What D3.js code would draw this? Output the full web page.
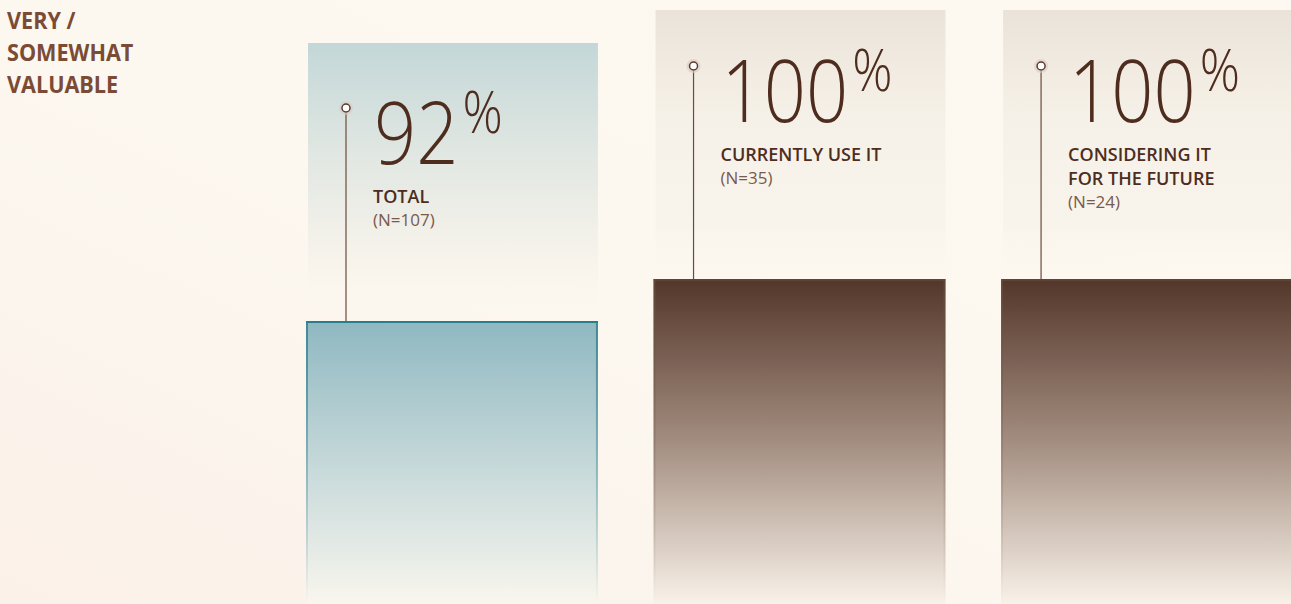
<!DOCTYPE html>
<html>
<head>
<meta charset="utf-8">
<script src="https://cdn.jsdelivr.net/npm/d3@7"></script>
<style>
  html, body { margin: 0; padding: 0; overflow: hidden; }
  body { background: #fcf6ee; }
  svg { display: block; }
  .big { font-family: "Open Sans", "Noto Sans", sans-serif; font-weight: 300; fill: #4e2d1f; }
  .cat { font-family: "Open Sans", "Noto Sans", sans-serif; font-weight: 600; fill: #4e2d1f; }
  .n { font-family: "Open Sans", "Noto Sans", sans-serif; font-weight: 400; fill: #7a5a4c; }
  .title { font-family: "Open Sans", "Noto Sans", sans-serif; font-weight: 700; fill: #7b4b35; }
</style>
</head>
<body>
<div id="chart"></div>
<script>
var categories = ["TOTAL", "CURRENTLY USE IT", "CONSIDERING IT FOR THE FUTURE"];
var labelLines = [["TOTAL"], ["CURRENTLY USE IT"], ["CONSIDERING IT", "FOR THE FUTURE"]];
var sampleSizes = ["(N=107)", "(N=35)", "(N=24)"];
var values = [92, 100, 100];
var titleLines = ["VERY /", "SOMEWHAT", "VALUABLE"];

var W = 1291, H = 604;

var svg = d3.select("#chart").append("svg")
    .attr("width", W)
    .attr("height", H);

var defs = svg.append("defs");

// page background
var bg = defs.append("linearGradient").attr("id", "pagebg")
    .attr("x1", "0%").attr("y1", "100%").attr("x2", "100%").attr("y2", "0%");
bg.append("stop").attr("offset", "0%").attr("stop-color", "#fbf1e9");
bg.append("stop").attr("offset", "45%").attr("stop-color", "#fcf7ef");
bg.append("stop").attr("offset", "100%").attr("stop-color", "#fdf9f1");
svg.append("rect").attr("width", W).attr("height", H).attr("fill", "url(#pagebg)");

// chart baseline lies below the visible frame
var y = d3.scaleLinear()
    .domain([0, 100])
    .range([804, 279]);

var x = d3.scaleBand()
    .domain(categories)
    .range([306, 1293])
    .paddingInner(0.16)
    .paddingOuter(0);

var palettes = [
    {panelTop: "#c3d7d8", panelMid: "#e1e7e2", barTop: "#8fb8c1", barMid: "#c5d8d9", barBot: "#f9f6ee", edge: "#2a7d8c"},
    {panelTop: "#ebe3d9", panelMid: "#f6f1e8", barTop: "#54362a", barMid: "#a38d80", barBot: "#f9f2e9", edge: "#6e5142"},
    {panelTop: "#ebe3d9", panelMid: "#f6f1e8", barTop: "#54362a", barMid: "#a38d80", barBot: "#f9f2e9", edge: "#6e5142"}
];
var panelOffset = [278, 269, 269];

palettes.forEach(function(p, i) {
    var top = y(values[i]);
    var pg = defs.append("linearGradient").attr("id", "panel" + i)
        .attr("x1", 0).attr("y1", 0).attr("x2", 0).attr("y2", 1);
    pg.append("stop").attr("offset", "0%").attr("stop-color", p.panelTop);
    pg.append("stop").attr("offset", "40%").attr("stop-color", p.panelMid);
    pg.append("stop").attr("offset", "80%").attr("stop-color", "#f8f4ec");
    pg.append("stop").attr("offset", "100%").attr("stop-color", "#fcf7ef").attr("stop-opacity", 0);

    var bgd = defs.append("linearGradient").attr("id", "bar" + i)
        .attr("gradientUnits", "userSpaceOnUse")
        .attr("x1", 0).attr("y1", top).attr("x2", 0).attr("y2", H);
    bgd.append("stop").attr("offset", "0%").attr("stop-color", p.barTop);
    bgd.append("stop").attr("offset", "50%").attr("stop-color", p.barMid);
    bgd.append("stop").attr("offset", "100%").attr("stop-color", p.barBot);

    var eg = defs.append("linearGradient").attr("id", "edge" + i)
        .attr("gradientUnits", "userSpaceOnUse")
        .attr("x1", 0).attr("y1", top).attr("x2", 0).attr("y2", H);
    eg.append("stop").attr("offset", "0%").attr("stop-color", p.edge).attr("stop-opacity", 1);
    eg.append("stop").attr("offset", "100%").attr("stop-color", p.edge).attr("stop-opacity", 0);
});

var groups = svg.selectAll(".col")
    .data(categories)
    .enter()
    .append("g")
    .attr("class", "col");

// light panel behind each annotation
groups.append("rect")
    .attr("x", function(d) { return x(d) + 2; })
    .attr("y", function(d, i) { return y(values[i]) - panelOffset[i]; })
    .attr("width", x.bandwidth() - 2)
    .attr("height", function(d, i) { return panelOffset[i]; })
    .attr("fill", function(d, i) { return "url(#panel" + i + ")"; });

// bars
groups.append("rect")
    .attr("x", function(d) { return x(d); })
    .attr("y", function(d, i) { return y(values[i]); })
    .attr("width", x.bandwidth())
    .attr("height", function(d, i) { return y(0) - y(values[i]); })
    .attr("fill", function(d, i) { return "url(#bar" + i + ")"; });

// bar side edges fading down
groups.each(function(d, i) {
    var g = d3.select(this);
    var top = y(values[i]);
    [x(d) + 1, x(d) + x.bandwidth() - 1].forEach(function(ex) {
        g.append("rect")
            .attr("x", ex - 1)
            .attr("y", top)
            .attr("width", 2)
            .attr("height", H - top)
            .attr("fill", "url(#edge" + i + ")")
            .attr("opacity", i === 0 ? 0.8 : 0.5);
    });
    g.append("line")
        .attr("x1", x(d)).attr("x2", x(d) + x.bandwidth())
        .attr("y1", top + 1).attr("y2", top + 1)
        .attr("stroke", palettes[i].edge)
        .attr("stroke-width", i === 0 ? 2 : 1.2);
});

// leader lines and dots
groups.append("line")
    .attr("x1", function(d) { return x(d) + 40; })
    .attr("x2", function(d) { return x(d) + 40; })
    .attr("y1", function(d, i) { return y(values[i]) - 208; })
    .attr("y2", function(d, i) { return y(values[i]); })
    .attr("stroke", "#6b4b3c")
    .attr("stroke-width", 1.2);

groups.append("circle")
    .attr("cx", function(d) { return x(d) + 40; })
    .attr("cy", function(d, i) { return y(values[i]) - 213; })
    .attr("r", 7)
    .attr("fill", "#d9cbc3")
    .attr("opacity", 0.6);

groups.append("circle")
    .attr("cx", function(d) { return x(d) + 40; })
    .attr("cy", function(d, i) { return y(values[i]) - 213; })
    .attr("r", 4)
    .attr("fill", "#ffffff")
    .attr("stroke", "#5a3a2c")
    .attr("stroke-width", 1.5);

// big percentage numbers and labels
groups.each(function(d, i) {
    var g = d3.select(this);
    var base = y(values[i]) - 157;
    var tx = x(d) + 68;
    var num = g.append("text")
        .attr("class", "big")
        .attr("transform", "translate(" + tx + "," + base + ") scale(0.86,1)")
        .attr("font-size", 86)
        .text(values[i]);
    var w = num.node().getComputedTextLength() * 0.86;
    g.append("text")
        .attr("class", "big")
        .attr("transform", "translate(" + (tx + w + 4) + "," + (base - 31) + ") scale(0.86,1)")
        .attr("font-size", 58)
        .text("%");

    var ly = y(values[i]) - 118;
    labelLines[i].forEach(function(line, k) {
        g.append("text")
            .attr("class", "cat")
            .attr("x", x(d) + 67)
            .attr("y", ly + k * 24)
            .attr("font-size", 18)
            .text(line);
    });
    g.append("text")
        .attr("class", "n")
        .attr("x", x(d) + 67)
        .attr("y", ly + labelLines[i].length * 24 - 1)
        .attr("font-size", 17)
        .text(sampleSizes[i]);
});

// left title
svg.append("g").selectAll("text")
    .data(titleLines)
    .enter()
    .append("text")
    .attr("class", "title")
    .attr("transform", function(d, i) { return "translate(7," + (29 + i * 32) + ") scale(0.9,1)"; })
    .attr("font-size", 24)
    .text(function(d) { return d; });
</script>
</body>
</html>
